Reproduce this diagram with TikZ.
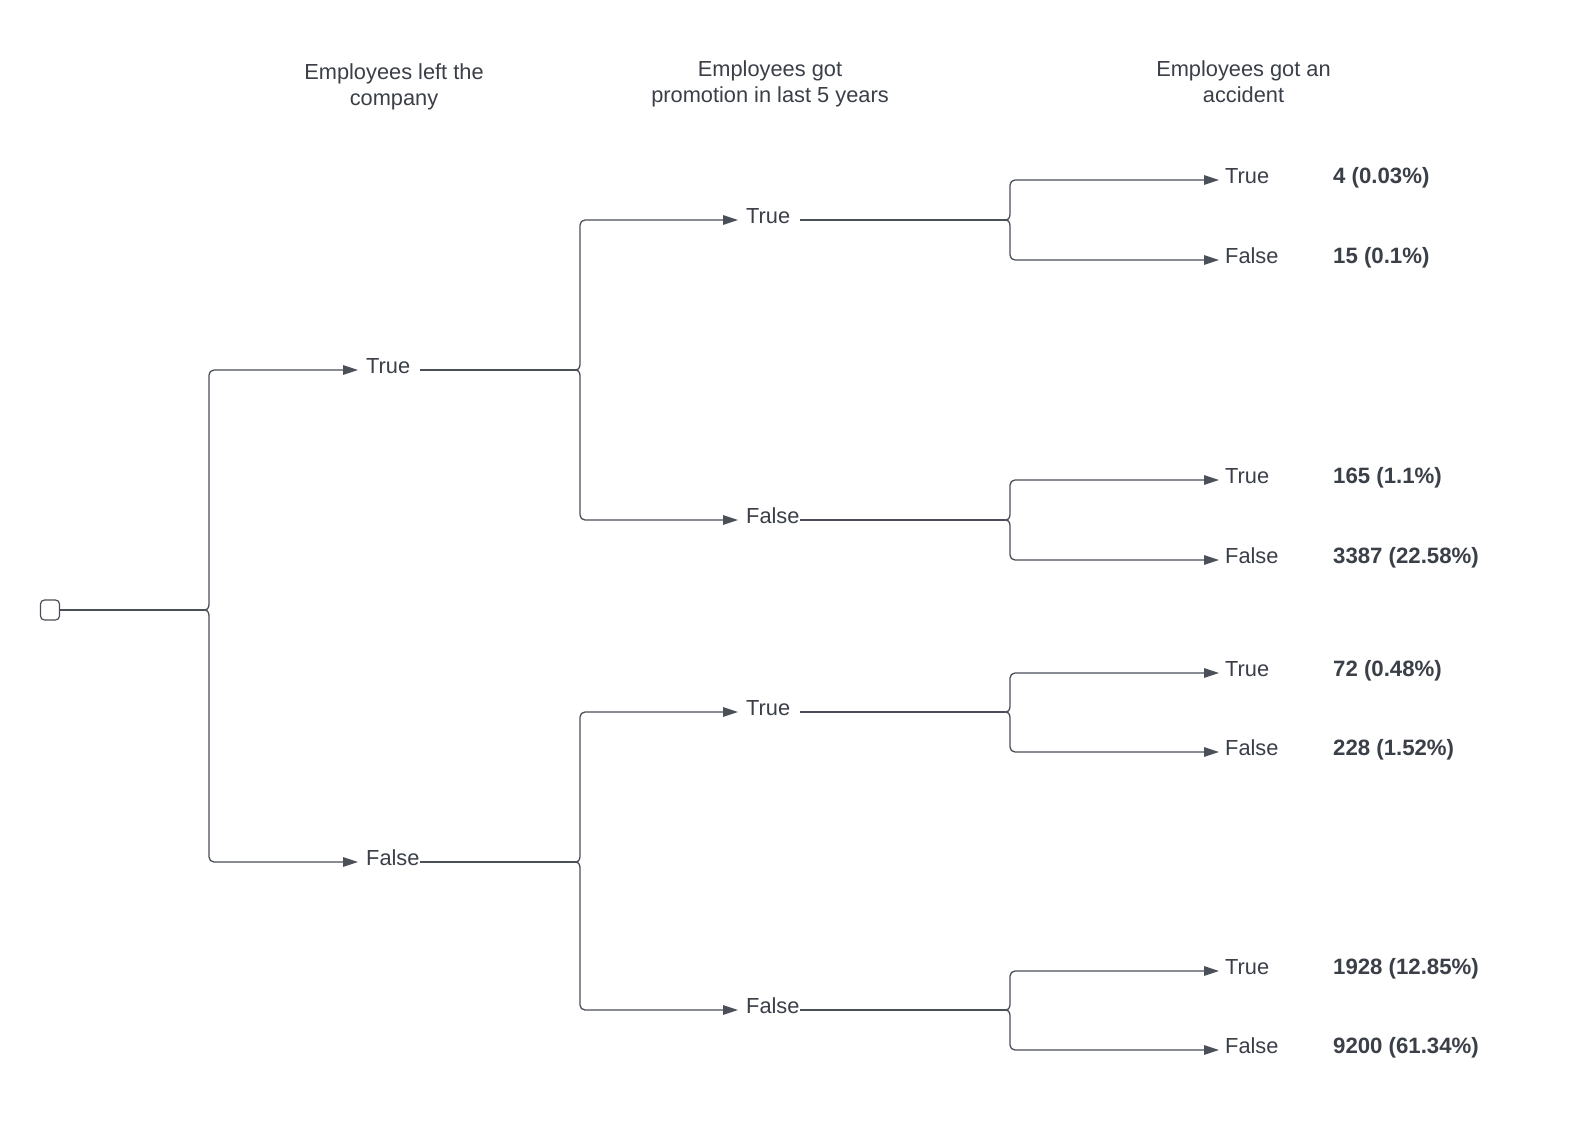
\documentclass[tikz,border=0pt]{standalone}
\usepackage{fontspec}
\setmainfont{Liberation Sans}
\usetikzlibrary{arrows.meta}
\definecolor{ink}{HTML}{3A3F48}
\definecolor{wire}{HTML}{4A4F58}
% fork from a junction point to two child nodes, brace-shaped at the junction
\newcommand\forkto[3]{%
  \draw[arr] (#1) .. controls +(5,0) and +(0,4) .. ++(5,-8) [rounded corners=5pt] |- (#2.west);
  \draw[arr] (#1) .. controls +(5,0) and +(0,-4) .. ++(5,8) [rounded corners=5pt] |- (#3.west);
}
\begin{document}
\begin{tikzpicture}[x=1pt,y=-1pt,
  font=\fontsize{21.8}{26}\selectfont, text=ink,
  conn/.style={draw=wire, line width=1.3pt},
  arr/.style={conn, -{Triangle[length=15pt,width=9.5pt]}},
  choice/.style={anchor=west, inner sep=0pt, text width=62pt, align=left,
                 text height=15.6pt, text depth=9pt,
                 execute at begin node=\hspace*{8pt}},
  leaf/.style={anchor=west, inner xsep=6pt, inner ysep=0pt, text height=15.6pt, text depth=9pt},
  count/.style={anchor=west, inner sep=0pt, font=\fontsize{22.2}{26}\selectfont\bfseries,
                text height=15.8pt, text depth=9pt},
  heading/.style={anchor=north, align=center, inner sep=0pt},
]
\useasboundingbox[fill=white] (0,0) rectangle (1580,1124);

% column headings
\node[heading] (h1) at (394,63.5) {Employees left the\\company};
\node[heading] (h2) at (770,60.5) {Employees got\\promotion in last 5 years};
\node[heading] (h3) at (1243.5,60.5) {Employees got an\\accident};

% root
\node[draw=wire, line width=1.2pt, rounded corners=4pt, minimum width=19pt,
      minimum height=20pt, inner sep=0pt] (root) at (50,610) {};
\coordinate (j) at (204,610);
\draw[conn] (root.east) -- (j);

% level 1: left the company
\node[choice] (t) at (358,370) {True};
\node[choice] (f) at (358,862) {False};
\forkto{j}{t}{f}

% level 2: promotion
\coordinate (jt) at (575,370);
\coordinate (jf) at (575,862);
\draw[conn] (t.east) -- (jt);
\draw[conn] (f.east) -- (jf);
\node[choice] (tt) at (738,220) {True};
\node[choice] (tf) at (738,520) {False};
\node[choice] (ft) at (738,712) {True};
\node[choice] (ff) at (738,1010) {False};
\forkto{jt}{tt}{tf}
\forkto{jf}{ft}{ff}

% level 3: accident
\coordinate (jtt) at (1005,220);
\coordinate (jtf) at (1005,520);
\coordinate (jft) at (1005,712);
\coordinate (jff) at (1005,1010);
\draw[conn] (tt.east) -- (jtt);
\draw[conn] (tf.east) -- (jtf);
\draw[conn] (ft.east) -- (jft);
\draw[conn] (ff.east) -- (jff);

\node[leaf] (ttt) at (1219,180) {True};
\node[leaf] (ttf) at (1219,260) {False};
\node[leaf] (tft) at (1219,480) {True};
\node[leaf] (tff) at (1219,560) {False};
\node[leaf] (ftt) at (1219,673) {True};
\node[leaf] (ftf) at (1219,752) {False};
\node[leaf] (fft) at (1219,971) {True};
\node[leaf] (fff) at (1219,1050) {False};
\forkto{jtt}{ttt}{ttf}
\forkto{jtf}{tft}{tff}
\forkto{jft}{ftt}{ftf}
\forkto{jff}{fft}{fff}

% counts
\node[count] (cttt) at (1333,180) {4 (0.03\%)};
\node[count] (cttf) at (1333,260) {15 (0.1\%)};
\node[count] (ctft) at (1333,480) {165 (1.1\%)};
\node[count] (ctff) at (1333,560) {3387 (22.58\%)};
\node[count] (cftt) at (1333,673) {72 (0.48\%)};
\node[count] (cftf) at (1333,752) {228 (1.52\%)};
\node[count] (cfft) at (1333,971) {1928 (12.85\%)};
\node[count] (cfff) at (1333,1050) {9200 (61.34\%)};
\end{tikzpicture}
\end{document}
